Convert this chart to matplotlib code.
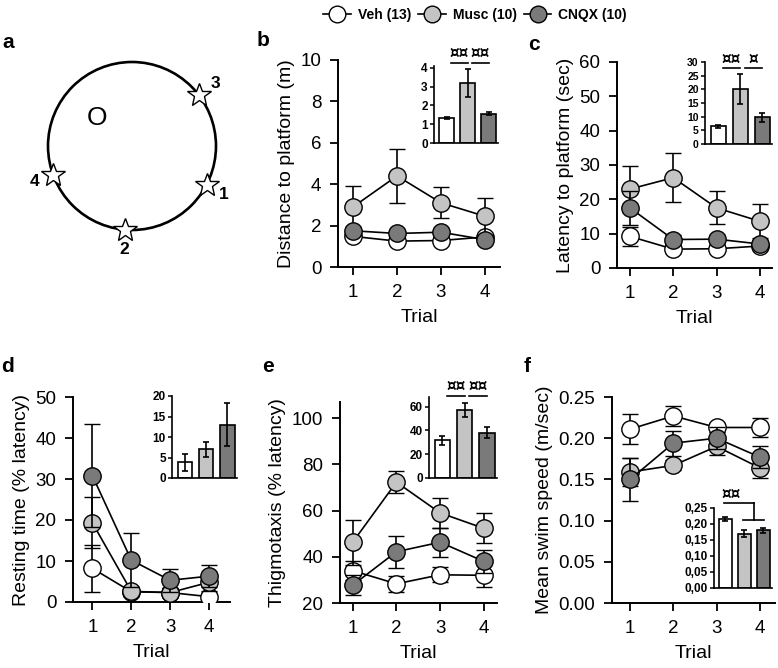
import numpy as np
import matplotlib
matplotlib.use("Agg")
from matplotlib import pyplot as plt
from matplotlib.lines import Line2D
from matplotlib.patches import Circle

plt.rcParams['font.family'] = ['Liberation Sans', 'DejaVu Sans']

W, H = 778, 668

trials = [1, 2, 3, 4]
group_labels = ["Veh (13)", "Musc (10)", "CNQX (10)"]
group_colors = ["#ffffff", "#c4c4c4", "#7a7a7a"]

# a: pool schematic (start positions, degrees on the rim)
start_angles = [-27.5, -94.5, 37, 200]
start_labels = ["1", "2", "3", "4"]

# b: distance to platform (m)
dist_veh = [1.48, 1.25, 1.28, 1.45]
dist_veh_err = [0.12, 0.10, 0.10, 0.12]
dist_musc = [2.9, 4.4, 3.1, 2.45]
dist_musc_err = [1.0, 1.3, 0.75, 0.9]
dist_cnqx = [1.75, 1.62, 1.68, 1.32]
dist_cnqx_err = [0.2, 0.12, 0.15, 0.12]
dist_bar = [1.35, 3.2, 1.55]
dist_bar_err = [0.05, 0.75, 0.08]
dist_sig = [(0, 1, "¤¤"), (1, 2, "¤¤")]

# c: latency to platform (sec)
lat_veh = [9.2, 5.5, 5.6, 6.4]
lat_veh_err = [2.8, 1.0, 1.0, 1.0]
lat_musc = [23.0, 26.3, 17.5, 13.6]
lat_musc_err = [6.8, 7.2, 4.8, 4.9]
lat_cnqx = [17.5, 8.3, 8.4, 7.0]
lat_cnqx_err = [5.0, 1.2, 1.2, 1.2]
lat_bar = [6.5, 20.0, 9.7]
lat_bar_err = [0.6, 5.5, 1.5]
lat_sig = [(0, 1, "¤¤"), (1, 2, "¤")]

# d: resting time (% latency)
rest_veh = [8.2, 2.5, 2.3, 1.3]
rest_veh_err = [5.8, 1.0, 1.0, 0.8]
rest_musc = [19.3, 2.6, 2.3, 4.8]
rest_musc_err = [6.2, 1.0, 1.0, 2.0]
rest_cnqx = [30.8, 10.2, 5.3, 6.3]
rest_cnqx_err = [12.6, 6.6, 2.8, 2.7]
rest_bar = [3.8, 7.0, 13.0]
rest_bar_err = [2.1, 1.8, 5.2]

# e: thigmotaxis (% latency)
thig_veh = [34.0, 28.3, 32.2, 32.0]
thig_veh_err = [4.0, 3.5, 3.3, 5.0]
thig_musc = [46.3, 72.3, 59.0, 52.3]
thig_musc_err = [9.7, 4.7, 6.6, 6.5]
thig_cnqx = [27.7, 42.2, 46.3, 38.0]
thig_cnqx_err = [4.3, 7.0, 6.2, 5.0]
thig_bar = [31.8, 57.2, 38.0]
thig_bar_err = [3.8, 6.0, 4.6]
thig_sig = [(0, 1, "¤¤"), (1, 2, "¤¤")]

# f: mean swim speed (m/sec)
speed_veh = [0.211, 0.227, 0.213, 0.213]
speed_veh_err = [0.018, 0.012, 0.006, 0.012]
speed_musc = [0.159, 0.167, 0.190, 0.164]
speed_musc_err = [0.017, 0.006, 0.010, 0.012]
speed_cnqx = [0.150, 0.194, 0.200, 0.177]
speed_cnqx_err = [0.026, 0.015, 0.013, 0.013]
speed_bar = [0.216, 0.170, 0.180]
speed_bar_err = [0.007, 0.011, 0.009]


def px_axes(fig, left, top, right, bottom):
    return fig.add_axes([left / W, 1 - bottom / H, (right - left) / W, (bottom - top) / H])


def plot_trials(ax, series, xlim, ylim, yticks, ylabel, fmt="{:g}"):
    for i, (m, e) in enumerate(series):
        ax.errorbar(trials, m, yerr=e, fmt='-o', color='black', lw=1.2,
                    elinewidth=1.2, capsize=6, capthick=1.2, ms=12.5,
                    mfc=group_colors[i], mec='black', mew=1.0, zorder=3 + i)
    ax.set_xlim(*xlim)
    ax.set_ylim(*ylim)
    ax.set_xticks(trials)
    ax.set_yticks(yticks)
    ax.set_yticklabels([fmt.format(v) for v in yticks])
    for s in ["top", "right"]:
        ax.spines[s].set_visible(False)
    for s in ["left", "bottom"]:
        ax.spines[s].set_linewidth(1.4)
    ax.tick_params(direction='out', length=6, width=1.3, labelsize=13.5, pad=6)
    ax.set_xlabel("Trial", fontsize=14, labelpad=6)
    ax.set_ylabel(ylabel, fontsize=14)
    ax.set_facecolor('none')


def plot_inset(ax, vals, errs, ylim, yticks, labels, fs=8.5):
    ax.bar(range(3), vals, width=0.68, color=group_colors, edgecolor='black',
           linewidth=1.2, yerr=errs, capsize=2.5,
           error_kw=dict(lw=1.2, capthick=1.2))
    ax.set_xlim(-0.6, 2.45)
    ax.set_ylim(*ylim)
    ax.set_xticks([])
    ax.set_yticks(yticks)
    ax.set_yticklabels(labels, fontsize=fs, fontweight='bold')
    for s in ["top", "right"]:
        ax.spines[s].set_visible(False)
    for s in ["left", "bottom"]:
        ax.spines[s].set_linewidth(1.2)
    ax.tick_params(axis='y', direction='out', length=3, width=1.1, pad=1.5)
    ax.set_facecolor('none')


def add_sig(ax, pairs, y_line, y_text, fs=11):
    for a, b, s in pairs:
        x0, x1 = a + 0.2, b
        ax.plot([x0, x1], [y_line, y_line], color='black', lw=1.2, clip_on=False)
        ax.text((x0 + x1) / 2, y_text, s, ha='center', va='bottom',
                fontsize=fs, fontweight='bold', family=['DejaVu Sans'])


fig = plt.figure(figsize=(W / 100, H / 100), dpi=100)

# ---- a: schematic
ax_a = px_axes(fig, 0, 0, 260, 260)
ax_a.set_xlim(0, 260)
ax_a.set_ylim(260, 0)
ax_a.axis('off')
cx, cy, r = 132, 146, 84
ax_a.add_patch(Circle((cx, cy), r, fill=False, lw=1.9, color='black'))
for ang, lab in zip(start_angles, start_labels):
    t = np.deg2rad(ang)
    ax_a.plot(cx + r * np.cos(t), cy - r * np.sin(t), marker='*', ms=18,
              mfc='white', mec='black', mew=1.0, zorder=3)
    ax_a.text(cx + 104 * np.cos(t), cy - 104 * np.sin(t), lab, ha='center',
              va='center', fontsize=12.5, fontweight='bold')
ax_a.text(97, 118, "O", ha='center', va='center', fontsize=19)

# ---- b
ax_b = px_axes(fig, 338, 60, 500, 267)
plot_trials(ax_b, [(dist_veh, dist_veh_err), (dist_musc, dist_musc_err),
                   (dist_cnqx, dist_cnqx_err)],
            (0.66, 4.34), (0, 10), [0, 2, 4, 6, 8, 10], "Distance to platform (m)")
ax_bi = px_axes(fig, 434, 66, 498, 143)
plot_inset(ax_bi, dist_bar, dist_bar_err, (0, 4.1), [0, 1, 2, 3, 4],
           ["0", "1", "2", "3", "4"])
add_sig(ax_bi, dist_sig, 4.27, 4.4)

# ---- c
ax_c = px_axes(fig, 617, 62, 772, 268)
plot_trials(ax_c, [(lat_veh, lat_veh_err), (lat_musc, lat_musc_err),
                   (lat_cnqx, lat_cnqx_err)],
            (0.70, 4.28), (0, 60), [0, 10, 20, 30, 40, 50, 60],
            "Latency to platform (sec)")
ax_ci = px_axes(fig, 705, 62, 772, 144)
ct = [0, 5, 10, 15, 20, 25, 30]
plot_inset(ax_ci, lat_bar, lat_bar_err, (0, 30), ct, [str(v) for v in ct], fs=7.5)
add_sig(ax_ci, lat_sig, 27.8, 28.4)

# ---- d
ax_d = px_axes(fig, 73, 397, 230, 602)
plot_trials(ax_d, [(rest_veh, rest_veh_err), (rest_musc, rest_musc_err),
                   (rest_cnqx, rest_cnqx_err)],
            (0.50, 4.54), (0, 50), [0, 10, 20, 30, 40, 50],
            "Resting time (% latency)")
ax_di = px_axes(fig, 172, 396, 237, 478)
dt = [0, 5, 10, 15, 20]
plot_inset(ax_di, rest_bar, rest_bar_err, (0, 20), dt, [str(v) for v in dt])

# ---- e
ax_e = px_axes(fig, 340, 402, 497, 603)
plot_trials(ax_e, [(thig_veh, thig_veh_err), (thig_musc, thig_musc_err),
                   (thig_cnqx, thig_cnqx_err)],
            (0.71, 4.30), (20, 107), [20, 40, 60, 80, 100],
            "Thigmotaxis (% latency)")
ax_ei = px_axes(fig, 429, 397, 497, 478)
et = [0, 20, 40, 60]
plot_inset(ax_ei, thig_bar, thig_bar_err, (0, 68), et, [str(v) for v in et])
add_sig(ax_ei, thig_sig, 68.5, 70.5)

# ---- f
ax_f = px_axes(fig, 612, 397, 775, 603)
plot_trials(ax_f, [(speed_veh, speed_veh_err), (speed_musc, speed_musc_err),
                   (speed_cnqx, speed_cnqx_err)],
            (0.58, 4.35), (0, 0.25), [0, 0.05, 0.10, 0.15, 0.20, 0.25],
            "Mean swim speed (m/sec)", fmt="{:.2f}")
ax_fi = px_axes(fig, 714, 508, 772, 588)
ft = [0, 0.05, 0.10, 0.15, 0.20, 0.25]
plot_inset(ax_fi, speed_bar, speed_bar_err, (0, 0.25), ft,
           ["{:.2f}".format(v).replace(".", ",") for v in ft])
# bracket: Veh vs (Musc, CNQX)
ax_fi.plot([-0.1, 1.5], [0.266, 0.266], color='black', lw=1.2, clip_on=False)
ax_fi.plot([1.5, 1.5], [0.266, 0.2125], color='black', lw=1.2, clip_on=False)
ax_fi.plot([0.95, 2.05], [0.2125, 0.2125], color='black', lw=1.2, clip_on=False)
ax_fi.text(0.3, 0.268, "¤¤", ha='center', va='bottom', fontsize=11,
           fontweight='bold', family=['DejaVu Sans'])

# ---- panel letters
for lab, (x, y) in zip("abcdef", [(8, 43), (263, 40), (534, 44),
                                  (8, 366), (268, 366), (527, 366)]):
    fig.text(x / W, 1 - y / H, lab, ha='center', va='center',
             fontsize=15, fontweight='bold')

# ---- legend
handles = [Line2D([], [], color='black', lw=1.2, marker='o', ms=12,
                  mfc=c, mec='black', mew=1.0) for c in group_colors]
fig.legend(handles, group_labels, loc='center', ncol=3, frameon=False,
           bbox_to_anchor=(475 / W, 1 - 15 / H), handlelength=2.0,
           handletextpad=0.5, columnspacing=0.5,
           prop=dict(weight='bold', size=10))

fig.savefig("out.png", dpi=100)
